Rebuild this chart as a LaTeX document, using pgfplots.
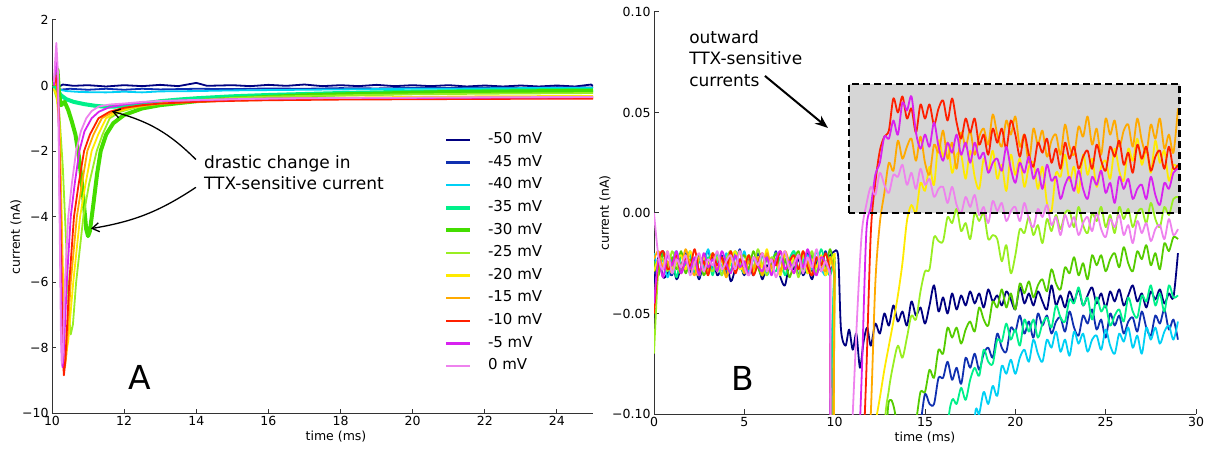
\documentclass[border=0pt]{standalone}
\usepackage{fontspec}
\setmainfont{DejaVu Sans}
\usepackage{pgfplots}
\usepackage{pgfplotstable}
\pgfplotsset{compat=1.18}
\usetikzlibrary{arrows.meta}
\definecolor{colfifty}{HTML}{000080}
\definecolor{colfortyfive}{HTML}{1030B0}
\definecolor{colforty}{HTML}{00D0F5}
\definecolor{colthirtyfive}{HTML}{00F08A}
\definecolor{colthirty}{HTML}{44DD00}
\definecolor{colthirtyb}{HTML}{55CC00}
\definecolor{coltwentyfive}{HTML}{99EE22}
\definecolor{coltwenty}{HTML}{FFEA00}
\definecolor{colfifteen}{HTML}{FFAA00}
\definecolor{colten}{HTML}{FF2000}
\definecolor{colfive}{HTML}{D822F0}
\definecolor{colzero}{HTML}{EE82EE}
\definecolor{boxgray}{HTML}{D6D6D6}
\pgfplotsset{
  panel/.style={
    scale only axis,
    axis x line*=bottom,
    axis y line*=left,
    axis line style={line width=1pt, black!80},
    every tick/.style={line width=1pt, black!80},
    tick align=inside,
    major tick length=4.5pt,
    tick label style={font=\fontsize{12.5}{15}\selectfont},
    label style={font=\fontsize{12.5}{15}\selectfont},
  }
}
\pgfplotstableread{
t a b c d e f g h i j k
0 -0.035 -0.030 -0.020 -0.025 -0.024 -0.070 -0.029 -0.023 -0.050 -0.045 0.000
0.25 -0.022 -0.028 -0.029 -0.029 -0.031 -0.027 -0.023 -0.019 -0.024 -0.023 -0.022
0.5 -0.032 -0.019 -0.023 -0.020 -0.020 -0.023 -0.026 -0.028 -0.019 -0.032 -0.028
0.75 -0.030 -0.027 -0.032 -0.028 -0.026 -0.029 -0.019 -0.024 -0.028 -0.021 -0.019
1.0 -0.024 -0.031 -0.024 -0.023 -0.022 -0.019 -0.028 -0.030 -0.025 -0.026 -0.030
1.25 -0.033 -0.022 -0.019 -0.032 -0.028 -0.025 -0.024 -0.021 -0.021 -0.019 -0.023
1.5 -0.027 -0.026 -0.028 -0.021 -0.019 -0.030 -0.021 -0.027 -0.030 -0.030 -0.027
1.75 -0.022 -0.020 -0.025 -0.026 -0.030 -0.021 -0.028 -0.018 -0.022 -0.024 -0.021
2.0 -0.030 -0.029 -0.021 -0.019 -0.023 -0.027 -0.019 -0.026 -0.027 -0.028 -0.031
2.25 -0.026 -0.023 -0.030 -0.030 -0.027 -0.024 -0.027 -0.031 -0.018 -0.022 -0.025
2.5 -0.033 -0.032 -0.022 -0.024 -0.021 -0.031 -0.031 -0.022 -0.029 -0.031 -0.020
2.75 -0.024 -0.024 -0.027 -0.028 -0.031 -0.022 -0.022 -0.025 -0.024 -0.020 -0.029
3.0 -0.029 -0.019 -0.018 -0.022 -0.025 -0.026 -0.026 -0.029 -0.031 -0.027 -0.023
3.25 -0.022 -0.028 -0.029 -0.031 -0.020 -0.029 -0.020 -0.020 -0.020 -0.023 -0.026
3.5 -0.031 -0.025 -0.024 -0.020 -0.029 -0.022 -0.029 -0.028 -0.026 -0.029 -0.019
3.75 -0.027 -0.021 -0.031 -0.027 -0.023 -0.031 -0.023 -0.023 -0.022 -0.019 -0.028
4.0 -0.023 -0.030 -0.020 -0.023 -0.026 -0.023 -0.032 -0.032 -0.028 -0.025 -0.024
4.25 -0.034 -0.022 -0.026 -0.029 -0.019 -0.019 -0.024 -0.021 -0.019 -0.030 -0.021
4.5 -0.028 -0.027 -0.022 -0.019 -0.028 -0.028 -0.019 -0.026 -0.030 -0.021 -0.028
4.75 -0.025 -0.018 -0.028 -0.025 -0.024 -0.024 -0.028 -0.019 -0.023 -0.027 -0.019
5.0 -0.031 -0.029 -0.019 -0.030 -0.021 -0.030 -0.025 -0.030 -0.027 -0.024 -0.027
5.25 -0.022 -0.024 -0.030 -0.021 -0.028 -0.021 -0.021 -0.024 -0.021 -0.031 -0.031
5.5 -0.030 -0.031 -0.023 -0.027 -0.019 -0.027 -0.030 -0.028 -0.031 -0.022 -0.022
5.75 -0.026 -0.020 -0.027 -0.024 -0.027 -0.018 -0.022 -0.022 -0.025 -0.026 -0.026
6.0 -0.033 -0.026 -0.021 -0.031 -0.031 -0.026 -0.027 -0.031 -0.020 -0.029 -0.020
6.25 -0.026 -0.022 -0.031 -0.022 -0.022 -0.031 -0.018 -0.020 -0.029 -0.022 -0.029
6.5 -0.029 -0.028 -0.025 -0.026 -0.026 -0.022 -0.029 -0.027 -0.023 -0.031 -0.023
6.75 -0.023 -0.019 -0.020 -0.029 -0.020 -0.025 -0.024 -0.023 -0.026 -0.023 -0.032
7.0 -0.032 -0.030 -0.029 -0.022 -0.029 -0.029 -0.031 -0.029 -0.019 -0.019 -0.024
7.25 -0.036 -0.023 -0.023 -0.031 -0.023 -0.020 -0.020 -0.019 -0.028 -0.028 -0.019
7.5 -0.025 -0.027 -0.026 -0.023 -0.032 -0.028 -0.026 -0.025 -0.024 -0.024 -0.028
7.75 -0.028 -0.021 -0.019 -0.019 -0.024 -0.023 -0.022 -0.030 -0.021 -0.030 -0.025
8.0 -0.023 -0.031 -0.028 -0.028 -0.019 -0.032 -0.028 -0.021 -0.028 -0.021 -0.021
8.25 -0.031 -0.025 -0.024 -0.024 -0.028 -0.021 -0.019 -0.027 -0.019 -0.027 -0.030
8.5 -0.027 -0.020 -0.021 -0.030 -0.025 -0.026 -0.030 -0.024 -0.027 -0.018 -0.022
8.75 -0.033 -0.029 -0.028 -0.021 -0.021 -0.019 -0.023 -0.031 -0.031 -0.026 -0.027
9.0 -0.024 -0.023 -0.019 -0.027 -0.030 -0.030 -0.027 -0.022 -0.022 -0.031 -0.018
9.25 -0.029 -0.026 -0.027 -0.018 -0.022 -0.024 -0.021 -0.026 -0.026 -0.022 -0.029
9.5 -0.026 -0.019 -0.031 -0.026 -0.027 -0.028 -0.031 -0.029 -0.020 -0.025 -0.024
9.75 -0.021 -0.028 -0.022 -0.031 -0.018 -0.022 -0.025 -0.022 -0.029 -0.029 -0.031
10.0 -0.019 -0.024 -0.026 -0.022 -0.029 -0.031 -0.020 -0.031 nan nan nan
}\baseB

\begin{document}
\begin{tikzpicture}
\path[use as bounding box] (0,0) rectangle (1219pt,448pt);
% ---------------- Panel A ----------------
\begin{axis}[panel, at={(52pt,35pt)}, anchor=south west, width=541pt, height=393pt,
  xmin=10, xmax=25, ymin=-10, ymax=2,
  xtick={10,12,14,16,18,20,22,24}, xticklabels={10,12,14,16,18,20,22,24},
  ytick={-10,-8,-6,-4,-2,0,2}, yticklabels={−10,−8,−6,−4,−2,0,2},
  xlabel={time (ms)}, ylabel={current (nA)},
  xlabel style={at={(axis description cs:0.525,-0.0712)}, anchor=base},
  ylabel style={at={(axis description cs:-0.0665,0.448)}, anchor=center},
  legend image code/.code={\draw[#1] (0pt,0pt) -- (24pt,0pt); \draw[#1, line width=2.4pt] (0pt,0pt) -- (24pt,0pt);},
  legend cell align=left,
  legend style={at={(axis cs:20.78,-1.374)}, anchor=north west, draw=none, fill=none,
    font=\fontsize{15}{18}\selectfont, row sep=8pt, column sep=16pt,
    nodes={inner sep=0pt, text height=11pt, text depth=3.6pt}},
  every axis plot/.append style={line join=round},
]
\addplot[colfifty, line width=1.8pt] coordinates {(10.05,0.0)(10.15,-0.06)(10.3,0.03)(10.6,-0.01)(11.0,0.01)(11.5,-0.03)(12.0,0.01)(12.5,-0.02)(13.0,0.02)(13.5,-0.02)(14.0,0.08)(14.3,-0.01)(15.0,0.01)(15.5,-0.02)(16.0,0.02)(16.5,-0.01)(17.0,0.03)(17.5,-0.02)(18.0,0.01)(18.5,-0.02)(19.0,0.02)(19.5,-0.02)(20.0,0.01)(20.5,-0.02)(21.0,0.01)(21.5,-0.03)(22.0,0.0)(22.5,-0.03)(23.0,0.0)(23.5,-0.03)(24.0,0.0)(24.5,-0.03)(24.95,0.03)(25,-0.02)};
\addlegendentry{-50 mV}
\addplot[colfortyfive, line width=1.8pt] coordinates {(10.05,-0.05)(10.2,-0.13)(10.5,-0.1)(11.0,-0.13)(11.5,-0.1)(12.0,-0.13)(12.5,-0.1)(13.0,-0.12)(14.0,-0.1)(15.0,-0.11)(16.0,-0.09)(17.0,-0.1)(18.0,-0.08)(19.0,-0.09)(20.0,-0.07)(21.0,-0.08)(22.0,-0.06)(23.0,-0.07)(24.0,-0.05)(25.0,-0.06)};
\addlegendentry{-45 mV}
\addplot[colforty, line width=1.8pt] coordinates {(10.05,0.0)(10.15,-0.12)(10.4,-0.17)(10.8,-0.2)(11.5,-0.21)(12.0,-0.19)(12.5,-0.21)(13.0,-0.18)(14.0,-0.17)(15.0,-0.15)(16.0,-0.14)(17.0,-0.13)(18.0,-0.12)(19.0,-0.11)(20.0,-0.1)(21.0,-0.1)(22.0,-0.09)(23.0,-0.08)(24.0,-0.08)(25.0,-0.07)};
\addlegendentry{-40 mV}
\addplot[colthirtyfive, line width=4pt] coordinates {(10.05,0.0)(10.15,-0.15)(10.25,-0.3)(10.4,-0.42)(10.6,-0.5)(10.9,-0.57)(11.2,-0.62)(11.5,-0.65)(11.8,-0.64)(12.2,-0.6)(12.6,-0.54)(13.0,-0.48)(13.5,-0.43)(14.0,-0.39)(15.0,-0.33)(16.0,-0.29)(17.0,-0.26)(18.0,-0.23)(19.0,-0.21)(20.0,-0.19)(21.0,-0.18)(22.0,-0.16)(23.0,-0.15)(24.0,-0.14)(25.0,-0.13)};
\addlegendentry{-35 mV}
\addplot[colthirty, line width=4pt] coordinates {(10.05,0.0)(10.15,0.5)(10.2,-0.3)(10.25,-0.6)(10.35,-0.5)(10.45,-0.75)(10.55,-1.1)(10.65,-1.5)(10.75,-2.2)(10.85,-3.2)(10.95,-4.4)(11.0,-4.6)(11.05,-4.45)(11.15,-3.6)(11.25,-2.7)(11.35,-2.0)(11.5,-1.5)(11.7,-1.15)(12.0,-0.9)(12.5,-0.7)(13.0,-0.6)(14.0,-0.48)(15.0,-0.4)(16.0,-0.35)(17.0,-0.3)(18.0,-0.27)(19.0,-0.25)(20.0,-0.22)(21.0,-0.2)(22.0,-0.19)(23.0,-0.18)(24.0,-0.17)(25.0,-0.16)};
\addlegendentry{-30 mV}
\addplot[coltwentyfive, line width=1.8pt] coordinates {(10.05,-0.1)(10.13,-0.4)(10.2,-0.8)(10.3,-2.5)(10.4,-5.0)(10.47,-7.0)(10.52,-7.6)(10.58,-7.3)(10.67,-6.0)(10.87,-4.0)(11.03,-3.0)(11.24,-2.0)(11.4,-1.5)(11.6,-1.0)(11.9,-0.8)(12.3,-0.68)(12.7,-0.6)(13.2,-0.52)(14,-0.45)(15,-0.38)(16,-0.34)(18,-0.3)(20,-0.27)(22,-0.25)(25,-0.23)};
\addlegendentry{-25 mV}
\addplot[coltwenty, line width=1.8pt] coordinates {(10.05,-0.1)(10.13,-0.3)(10.22,-1.5)(10.3,-5.5)(10.36,-8.0)(10.39,-8.2)(10.45,-7.8)(10.59,-6.0)(10.78,-4.0)(10.93,-3.0)(11.1,-2.0)(11.28,-1.5)(11.5,-1.0)(11.8,-0.8)(12.2,-0.68)(12.6,-0.6)(13,-0.55)(14,-0.48)(15,-0.43)(16,-0.4)(18,-0.37)(20,-0.35)(22,-0.33)(25,-0.32)};
\addlegendentry{-20 mV}
\addplot[colfifteen, line width=1.8pt] coordinates {(10.05,0.0)(10.13,0.1)(10.2,-1.0)(10.27,-5)(10.33,-8.3)(10.36,-8.6)(10.4,-8.2)(10.52,-6.0)(10.69,-4.0)(10.83,-3.0)(10.98,-2.0)(11.15,-1.5)(11.38,-1.0)(11.7,-0.8)(12.1,-0.68)(12.5,-0.62)(13,-0.56)(14,-0.5)(15,-0.46)(16,-0.44)(18,-0.41)(20,-0.4)(22,-0.39)(25,-0.38)};
\addlegendentry{-15 mV}
\addplot[colten, line width=1.8pt] coordinates {(10.05,0.0)(10.13,0.3)(10.18,-0.5)(10.24,-4.5)(10.3,-8.3)(10.33,-8.85)(10.37,-8.4)(10.48,-6.0)(10.61,-4.0)(10.74,-3.0)(10.89,-2.0)(11.05,-1.5)(11.29,-1.0)(11.6,-0.8)(12.0,-0.68)(12.5,-0.6)(13,-0.55)(14,-0.5)(15,-0.47)(16,-0.45)(18,-0.43)(20,-0.42)(22,-0.41)(25,-0.4)};
\addlegendentry{-10 mV}
\addplot[colfive, line width=1.8pt] coordinates {(10.05,0.0)(10.12,0.8)(10.17,0.0)(10.22,-4)(10.27,-8.0)(10.29,-8.6)(10.32,-8.3)(10.41,-6.0)(10.52,-4.0)(10.63,-3.0)(10.76,-2.0)(10.9,-1.4)(11.1,-1.0)(11.3,-0.8)(11.6,-0.66)(12.0,-0.58)(12.5,-0.52)(13,-0.48)(14,-0.45)(15,-0.42)(16,-0.4)(18,-0.38)(20,-0.38)(22,-0.37)(25,-0.36)};
\addlegendentry{-5 mV}
\addplot[colzero, line width=1.8pt] coordinates {(10.05,0.1)(10.12,1.3)(10.17,0.3)(10.21,-4)(10.25,-7.8)(10.27,-8.5)(10.3,-8.2)(10.36,-6.0)(10.45,-4.0)(10.55,-3.0)(10.67,-2.0)(10.8,-1.4)(10.95,-1.0)(11.1,-0.78)(11.3,-0.64)(11.6,-0.58)(12.0,-0.55)(12.5,-0.5)(13,-0.47)(14,-0.44)(15,-0.42)(16,-0.4)(18,-0.38)(20,-0.37)(22,-0.36)(25,-0.35)};
\addlegendentry{0 mV}
\node[anchor=west, align=left, inner sep=0pt, font=\fontsize{17}{21}\selectfont] at (axis cs:14.21,-2.67) {drastic change in\\TTX-sensitive current};
\draw[-{Straight Barb[length=7pt,width=9pt]}, line width=1.3pt] (axis cs:13.99,-2.26) to[bend right=15] (axis cs:11.66,-0.79);
\draw[-{Straight Barb[length=7pt,width=9pt]}, line width=1.3pt] (axis cs:13.99,-3.11) to[bend left=12] (axis cs:11.08,-4.37);
\node[inner sep=0pt, font=\fontsize{33}{40}\selectfont] at (axis cs:12.44,-8.92) {A};
\end{axis}
% ---------------- Panel B ----------------
\begin{axis}[panel, at={(654pt,34pt)}, anchor=south west, width=542pt, height=402pt,
  xmin=0, xmax=30, ymin=-0.1, ymax=0.1,
  xtick={0,5,10,15,20,25,30}, xticklabels={0,5,10,15,20,25,30},
  ytick={-0.1,-0.05,0,0.05,0.1}, yticklabels={−0.10,−0.05,0.00,0.05,0.10},
  xlabel={time (ms)}, ylabel={current (nA)},
  xlabel style={at={(axis description cs:0.5,-0.0672)}, anchor=base},
  ylabel style={at={(axis description cs:-0.0904,0.5)}, anchor=center},
  every axis plot/.append style={line width=1.8pt, line join=round, smooth, tension=0.5},
]
\fill[boxgray] (axis cs:10.8,0) rectangle (axis cs:29.1,0.0642);
% -50
\addplot[colfifty] table[x=t,y=a] {\baseB};
\addplot[colfifty] coordinates {(10.0,-0.019)(10.2,-0.022)(10.35,-0.058)(10.6,-0.066)(10.8,-0.058)(11.0,-0.068)(11.2,-0.060)(11.4,-0.077)(11.6,-0.064)(11.8,-0.057)(12.0,-0.066)(12.25,-0.055)(12.5,-0.060)(12.75,-0.050)(13.0,-0.056)(13.25,-0.046)(13.5,-0.054)(13.75,-0.049)(14.0,-0.056)(14.25,-0.044)(14.5,-0.051)(14.75,-0.047)(15.0,-0.055)(15.25,-0.046)(15.5,-0.036)(15.75,-0.049)(16.0,-0.042)(16.25,-0.050)(16.5,-0.040)(16.75,-0.048)(17.0,-0.041)(17.25,-0.046)(17.5,-0.039)(17.75,-0.045)(18.0,-0.040)(18.25,-0.047)(18.5,-0.038)(18.75,-0.044)(19.0,-0.041)(19.25,-0.046)(19.5,-0.039)(19.75,-0.043)(20.0,-0.048)(20.25,-0.037)(20.5,-0.045)(20.75,-0.040)(21.0,-0.046)(21.25,-0.039)(21.5,-0.044)(21.75,-0.048)(22.0,-0.036)(22.25,-0.046)(22.5,-0.041)(22.75,-0.047)(23.0,-0.039)(23.25,-0.044)(23.5,-0.038)(23.75,-0.046)(24.0,-0.041)(24.25,-0.037)(24.5,-0.045)(24.75,-0.040)(25.0,-0.047)(25.25,-0.039)(25.5,-0.044)(25.75,-0.038)(26.0,-0.046)(26.25,-0.041)(26.5,-0.036)(26.75,-0.044)(27.0,-0.040)(27.25,-0.047)(27.5,-0.039)(27.75,-0.043)(28.0,-0.038)(28.25,-0.045)(28.5,-0.040)(28.75,-0.042)(29.0,-0.020)};
% -45
\addplot[colfortyfive] table[x=t,y=b] {\baseB};
\addplot[colfortyfive] coordinates {(10.0,-0.024)(10.25,-0.2)(14.0,-0.2)(14.25,-0.13)(14.5,-0.105)(14.75,-0.104)(15.0,-0.090)(15.25,-0.095)(15.5,-0.095)(15.75,-0.082)(16.0,-0.082)(16.25,-0.074)(16.5,-0.083)(16.75,-0.077)(17.0,-0.085)(17.25,-0.072)(17.5,-0.077)(17.75,-0.070)(18.0,-0.078)(18.25,-0.070)(18.5,-0.067)(18.75,-0.072)(19.0,-0.060)(19.25,-0.067)(19.5,-0.069)(19.75,-0.057)(20.0,-0.059)(20.25,-0.051)(20.5,-0.060)(20.75,-0.054)(21.0,-0.062)(21.25,-0.050)(21.5,-0.056)(21.75,-0.051)(22.0,-0.060)(22.25,-0.054)(22.5,-0.052)(22.75,-0.059)(23.0,-0.049)(23.25,-0.057)(23.5,-0.061)(23.75,-0.051)(24.0,-0.055)(24.25,-0.048)(24.5,-0.058)(24.75,-0.053)(25.0,-0.062)(25.25,-0.050)(25.5,-0.056)(25.75,-0.051)(26.0,-0.060)(26.25,-0.054)(26.5,-0.052)(26.75,-0.059)(27.0,-0.049)(27.25,-0.057)(27.5,-0.061)(27.75,-0.051)(28.0,-0.055)(28.25,-0.048)(28.5,-0.058)(28.75,-0.053)(29.0,-0.063)};
% -40
\addplot[colforty] table[x=t,y=c] {\baseB};
\addplot[colforty] coordinates {(10.0,-0.026)(10.3,-0.2)(17.5,-0.2)(17.75,-0.104)(18.0,-0.100)(18.25,-0.089)(18.5,-0.095)(18.75,-0.086)(19.0,-0.091)(19.25,-0.076)(19.5,-0.080)(19.75,-0.073)(20.0,-0.080)(20.25,-0.072)(20.5,-0.068)(20.75,-0.074)(21.0,-0.063)(21.25,-0.070)(21.5,-0.074)(21.75,-0.063)(22.0,-0.067)(22.25,-0.059)(22.5,-0.069)(22.75,-0.063)(23.0,-0.071)(23.25,-0.059)(23.5,-0.065)(23.75,-0.060)(24.0,-0.069)(24.25,-0.063)(24.5,-0.061)(24.75,-0.068)(25.0,-0.058)(25.25,-0.066)(25.5,-0.070)(25.75,-0.060)(26.0,-0.064)(26.25,-0.057)(26.5,-0.067)(26.75,-0.061)(27.0,-0.070)(27.25,-0.057)(27.5,-0.063)(27.75,-0.057)(28.0,-0.065)(28.25,-0.059)(28.5,-0.056)(28.75,-0.063)(29.0,-0.054)};
% -35
\addplot[colthirtyfive] table[x=t,y=d] {\baseB};
\addplot[colthirtyfive] coordinates {(10.0,-0.022)(10.2,-0.2)(16.0,-0.2)(16.25,-0.111)(16.5,-0.093)(16.75,-0.095)(17.0,-0.087)(17.25,-0.093)(17.5,-0.083)(17.75,-0.077)(18.0,-0.081)(18.25,-0.068)(18.5,-0.074)(18.75,-0.075)(19.0,-0.063)(19.25,-0.064)(19.5,-0.055)(19.75,-0.063)(20.0,-0.058)(20.25,-0.066)(20.5,-0.053)(20.75,-0.059)(21.0,-0.053)(21.25,-0.062)(21.5,-0.055)(21.75,-0.052)(22.0,-0.057)(22.25,-0.046)(22.5,-0.052)(22.75,-0.054)(23.0,-0.043)(23.25,-0.045)(23.5,-0.037)(23.75,-0.046)(24.0,-0.042)(24.25,-0.053)(24.5,-0.042)(24.75,-0.049)(25.0,-0.046)(25.25,-0.056)(25.5,-0.051)(25.75,-0.048)(26.0,-0.054)(26.25,-0.042)(26.5,-0.049)(26.75,-0.052)(27.0,-0.041)(27.25,-0.044)(27.5,-0.036)(27.75,-0.046)(28.0,-0.040)(28.25,-0.049)(28.5,-0.036)(28.75,-0.042)(29.0,-0.041)};
% -30
\addplot[colthirtyb] table[x=t,y=e] {\baseB};
\addplot[colthirtyb] coordinates {(10.0,-0.029)(10.15,-0.2)(12.6,-0.2)(12.9,-0.105)(13.1,-0.093)(13.35,-0.100)(13.6,-0.12)(14.0,-0.12)(14.25,-0.102)(14.5,-0.103)(14.75,-0.089)(15.0,-0.089)(15.25,-0.078)(15.5,-0.082)(15.75,-0.068)(16.0,-0.070)(16.25,-0.057)(16.5,-0.062)(16.75,-0.057)(17.0,-0.065)(17.25,-0.058)(17.5,-0.054)(17.75,-0.059)(18.0,-0.047)(18.25,-0.053)(18.5,-0.056)(18.75,-0.044)(19.0,-0.047)(19.25,-0.038)(19.5,-0.047)(19.75,-0.040)(20.0,-0.048)(20.25,-0.035)(20.5,-0.040)(20.75,-0.034)(21.0,-0.042)(21.25,-0.036)(21.5,-0.033)(21.75,-0.039)(22.0,-0.028)(22.25,-0.035)(22.5,-0.038)(22.75,-0.027)(23.0,-0.030)(23.25,-0.022)(23.5,-0.031)(23.75,-0.025)(24.0,-0.033)(24.25,-0.021)(24.5,-0.026)(24.75,-0.021)(25.0,-0.029)(25.25,-0.023)(25.5,-0.020)(25.75,-0.027)(26.0,-0.017)(26.25,-0.025)(26.5,-0.029)(26.75,-0.019)(27.0,-0.023)(27.25,-0.016)(27.5,-0.026)(27.75,-0.020)(28.0,-0.028)(28.25,-0.015)(28.5,-0.019)(28.75,-0.012)(29.0,-0.013)};
% -25
\addplot[coltwentyfive] table[x=t,y=f] {\baseB};
\addplot[coltwentyfive] coordinates {(10.0,-0.031)(10.1,-0.2)(12.5,-0.2)(12.75,-0.110)(13.0,-0.088)(13.25,-0.075)(13.5,-0.066)(13.75,-0.072)(14.0,-0.062)(14.25,-0.051)(14.5,-0.053)(14.75,-0.039)(15.0,-0.029)(15.25,-0.028)(15.5,-0.012)(15.75,-0.014)(16.0,-0.014)(16.25,-0.002)(16.5,-0.005)(16.75,0.002)(17.0,-0.009)(17.25,-0.005)(17.5,-0.013)(17.75,0.000)(18.0,-0.004)(18.25,0.000)(18.5,-0.013)(18.75,-0.011)(19.0,-0.013)(19.25,-0.024)(19.5,-0.016)(19.75,-0.030)(20.0,-0.021)(20.25,-0.008)(20.5,-0.010)(20.75,-0.002)(21.0,-0.011)(21.25,-0.006)(21.5,-0.015)(21.75,-0.003)(22.0,-0.009)(22.25,-0.001)(22.5,-0.008)(22.75,0.000)(23.0,0.001)(23.25,-0.007)(23.5,0.003)(23.75,-0.006)(24.0,-0.010)(24.25,0.000)(24.5,-0.004)(24.75,0.003)(25.0,-0.007)(25.25,-0.001)(25.5,-0.010)(25.75,0.003)(26.0,-0.003)(26.25,0.002)(26.5,-0.007)(26.75,0.000)(27.0,0.002)(27.25,-0.005)(27.5,0.005)(27.75,-0.003)(28.0,-0.007)(28.25,0.003)(28.5,-0.001)(28.75,0.007)(29.0,0.008)};
% -20
\addplot[coltwenty] table[x=t,y=g] {\baseB};
\addplot[coltwenty] coordinates {(10.0,-0.020)(10.1,-0.2)(11.75,-0.2)(12.0,-0.120)(12.25,-0.105)(12.5,-0.092)(12.75,-0.078)(13.0,-0.066)(13.25,-0.054)(13.5,-0.041)(13.75,-0.025)(14.0,-0.004)(14.25,0.004)(14.5,0.000)(14.75,0.015)(15.0,0.011)(15.25,0.023)(15.5,0.014)(15.75,0.036)(16.0,0.028)(16.25,0.035)(16.5,0.020)(16.75,0.029)(17.0,0.029)(17.25,0.017)(17.5,0.031)(17.75,0.018)(18.0,0.012)(18.25,0.027)(18.5,0.021)(18.75,0.031)(19.0,0.017)(19.25,0.024)(19.5,0.011)(19.75,0.029)(20.0,0.019)(20.25,0.027)(20.5,0.013)(20.75,0.023)(21.0,0.025)(21.25,0.012)(21.5,0.023)(21.75,0.005)(22.0,0.001)(22.25,0.020)(22.5,0.018)(22.75,0.029)(23.0,0.016)(23.25,0.023)(23.5,0.010)(23.75,0.029)(24.0,0.019)(24.25,0.027)(24.5,0.013)(24.75,0.023)(25.0,0.026)(25.25,0.017)(25.5,0.032)(25.75,0.021)(26.0,0.016)(26.25,0.032)(26.5,0.026)(26.75,0.037)(27.0,0.024)(27.25,0.032)(27.5,0.020)(27.75,0.036)(28.0,0.025)(28.25,0.031)(28.5,0.016)(28.75,0.024)(29.0,0.022)};
% -15
\addplot[colfifteen] table[x=t,y=h] {\baseB};
\addplot[colfifteen] coordinates {(10.0,-0.031)(10.05,-0.2)(11.5,-0.2)(11.75,-0.140)(12.0,-0.100)(12.25,-0.035)(12.5,-0.005)(12.75,0.010)(13.0,0.025)(13.25,0.021)(13.5,0.036)(13.75,0.027)(14.0,0.033)(14.25,0.037)(14.5,0.026)(14.75,0.038)(15.0,0.025)(15.25,0.019)(15.5,0.034)(15.75,0.030)(16.0,0.041)(16.25,0.027)(16.5,0.035)(16.75,0.022)(17.0,0.040)(17.25,0.033)(17.5,0.041)(17.75,0.029)(18.0,0.038)(18.25,0.042)(18.5,0.034)(18.75,0.049)(19.0,0.039)(19.25,0.033)(19.5,0.046)(19.75,0.039)(20.0,0.048)(20.25,0.033)(20.5,0.039)(20.75,0.025)(21.0,0.042)(21.25,0.034)(21.5,0.041)(21.75,0.028)(22.0,0.036)(22.25,0.039)(22.5,0.029)(22.75,0.044)(23.0,0.033)(23.25,0.029)(23.5,0.043)(23.75,0.038)(24.0,0.048)(24.25,0.034)(24.5,0.042)(24.75,0.029)(25.0,0.047)(25.25,0.039)(25.5,0.046)(25.75,0.033)(26.0,0.041)(26.25,0.044)(26.5,0.033)(26.75,0.047)(27.0,0.036)(27.25,0.030)(27.5,0.044)(27.75,0.037)(28.0,0.047)(28.25,0.032)(28.5,0.039)(28.75,0.030)(29.0,0.052)};
% -10
\addplot[colten] table[x=t,y=i] {\baseB};
\addplot[colten] coordinates {(9.75,-0.029)(9.95,-0.2)(11.25,-0.2)(11.5,-0.140)(11.75,-0.080)(12.0,-0.010)(12.25,0.015)(12.5,0.031)(12.75,0.038)(13.0,0.041)(13.25,0.057)(13.5,0.050)(13.75,0.058)(14.0,0.047)(14.25,0.052)(14.5,0.040)(14.75,0.054)(15.0,0.047)(15.25,0.054)(15.5,0.044)(15.75,0.052)(16.0,0.056)(16.25,0.046)(16.5,0.057)(16.75,0.045)(17.0,0.037)(17.25,0.047)(17.5,0.040)(17.75,0.047)(18.0,0.034)(18.25,0.039)(18.5,0.029)(18.75,0.042)(19.0,0.035)(19.25,0.042)(19.5,0.032)(19.75,0.046)(20.0,0.039)(20.25,0.028)(20.5,0.039)(20.75,0.029)(21.0,0.023)(21.25,0.035)(21.5,0.030)(21.75,0.037)(22.0,0.025)(22.25,0.032)(22.5,0.022)(22.75,0.035)(23.0,0.027)(23.25,0.033)(23.5,0.022)(23.75,0.028)(24.0,0.031)(24.25,0.022)(24.5,0.034)(24.75,0.026)(25.0,0.021)(25.25,0.033)(25.5,0.028)(25.75,0.036)(26.0,0.024)(26.25,0.030)(26.5,0.020)(26.75,0.034)(27.0,0.027)(27.25,0.033)(27.5,0.021)(27.75,0.028)(28.0,0.031)(28.25,0.022)(28.5,0.033)(28.75,0.022)(29.0,0.024)};
% -5
\addplot[colfive] table[x=t,y=j] {\baseB};
\addplot[colfive] coordinates {(9.75,-0.029)(9.9,-0.2)(11.0,-0.2)(11.25,-0.140)(11.5,-0.080)(11.75,-0.010)(12.0,0.003)(12.25,0.019)(12.5,0.025)(12.75,0.038)(13.0,0.037)(13.25,0.046)(13.5,0.039)(13.75,0.055)(14.0,0.051)(14.25,0.058)(14.5,0.040)(14.75,0.032)(15.0,0.039)(15.25,0.033)(15.5,0.045)(15.75,0.033)(16.0,0.026)(16.25,0.035)(16.5,0.030)(16.75,0.039)(17.0,0.029)(17.25,0.035)(17.5,0.025)(17.75,0.035)(18.0,0.027)(18.25,0.030)(18.5,0.020)(18.75,0.025)(19.0,0.027)(19.25,0.021)(19.5,0.033)(19.75,0.022)(20.0,0.015)(20.25,0.025)(20.5,0.020)(20.75,0.028)(21.0,0.017)(21.25,0.022)(21.5,0.012)(21.75,0.024)(22.0,0.016)(22.25,0.018)(22.5,0.007)(22.75,0.014)(23.0,0.018)(23.25,0.011)(23.5,0.021)(23.75,0.012)(24.0,0.007)(24.25,0.018)(24.5,0.014)(24.75,0.021)(25.0,0.010)(25.25,0.015)(25.5,0.005)(25.75,0.018)(26.0,0.012)(26.25,0.017)(26.5,0.007)(26.75,0.012)(27.0,0.014)(27.25,0.007)(27.5,0.018)(27.75,0.009)(28.0,0.004)(28.25,0.015)(28.5,0.012)(28.75,0.020)(29.0,0.022)};
% 0
\addplot[colzero] table[x=t,y=k] {\baseB};
\addplot[colzero] coordinates {(9.75,-0.031)(9.9,-0.2)(10.5,-0.2)(10.75,-0.150)(11.0,-0.100)(11.25,-0.050)(11.5,-0.010)(11.75,0.004)(12.0,0.013)(12.25,0.009)(12.5,0.020)(12.75,0.014)(13.0,0.010)(13.25,0.019)(13.5,0.018)(13.75,0.024)(14.0,0.014)(14.25,0.020)(14.5,0.012)(14.75,0.022)(15.0,0.014)(15.25,0.017)(15.5,0.008)(15.75,0.012)(16.0,0.013)(16.25,0.005)(16.5,0.013)(16.75,0.004)(17.0,0.000)(17.25,0.008)(17.5,0.003)(17.75,0.009)(18.0,-0.001)(18.25,0.003)(18.5,-0.005)(18.75,0.006)(19.0,0.001)(19.25,0.005)(19.5,-0.004)(19.75,0.001)(20.0,0.003)(20.25,-0.004)(20.5,0.005)(20.75,-0.003)(21.0,-0.007)(21.25,0.002)(21.5,-0.002)(21.75,0.004)(22.0,-0.006)(22.25,-0.002)(22.5,-0.011)(22.75,-0.001)(23.0,-0.007)(23.25,-0.002)(23.5,-0.011)(23.75,-0.005)(24.0,-0.002)(24.25,-0.009)(24.5,0.000)(24.75,-0.008)(25.0,-0.012)(25.25,-0.003)(25.5,-0.007)(25.75,-0.001)(26.0,-0.011)(26.25,-0.006)(26.5,-0.015)(26.75,-0.004)(27.0,-0.010)(27.25,-0.005)(27.5,-0.014)(27.75,-0.008)(28.0,-0.006)(28.25,-0.013)(28.5,-0.003)(28.75,-0.011)(29.0,-0.008)};
\draw[black, line width=2.6pt, dash pattern=on 7pt off 4pt] (axis cs:10.8,0) rectangle (axis cs:29.1,0.0642);
\node[anchor=west, align=left, inner sep=0pt, font=\fontsize{17}{21.7}\selectfont] at (axis cs:1.94,0.0769) {outward\\TTX-sensitive\\currents};
\draw[-{Stealth[length=13pt,width=10pt]}, line width=2pt] (axis cs:6.14,0.0682) -- (axis cs:9.63,0.0423);
\node[inner sep=0pt, font=\fontsize{33}{40}\selectfont] at (axis cs:4.93,-0.0823) {B};
\end{axis}
\end{tikzpicture}
\end{document}
